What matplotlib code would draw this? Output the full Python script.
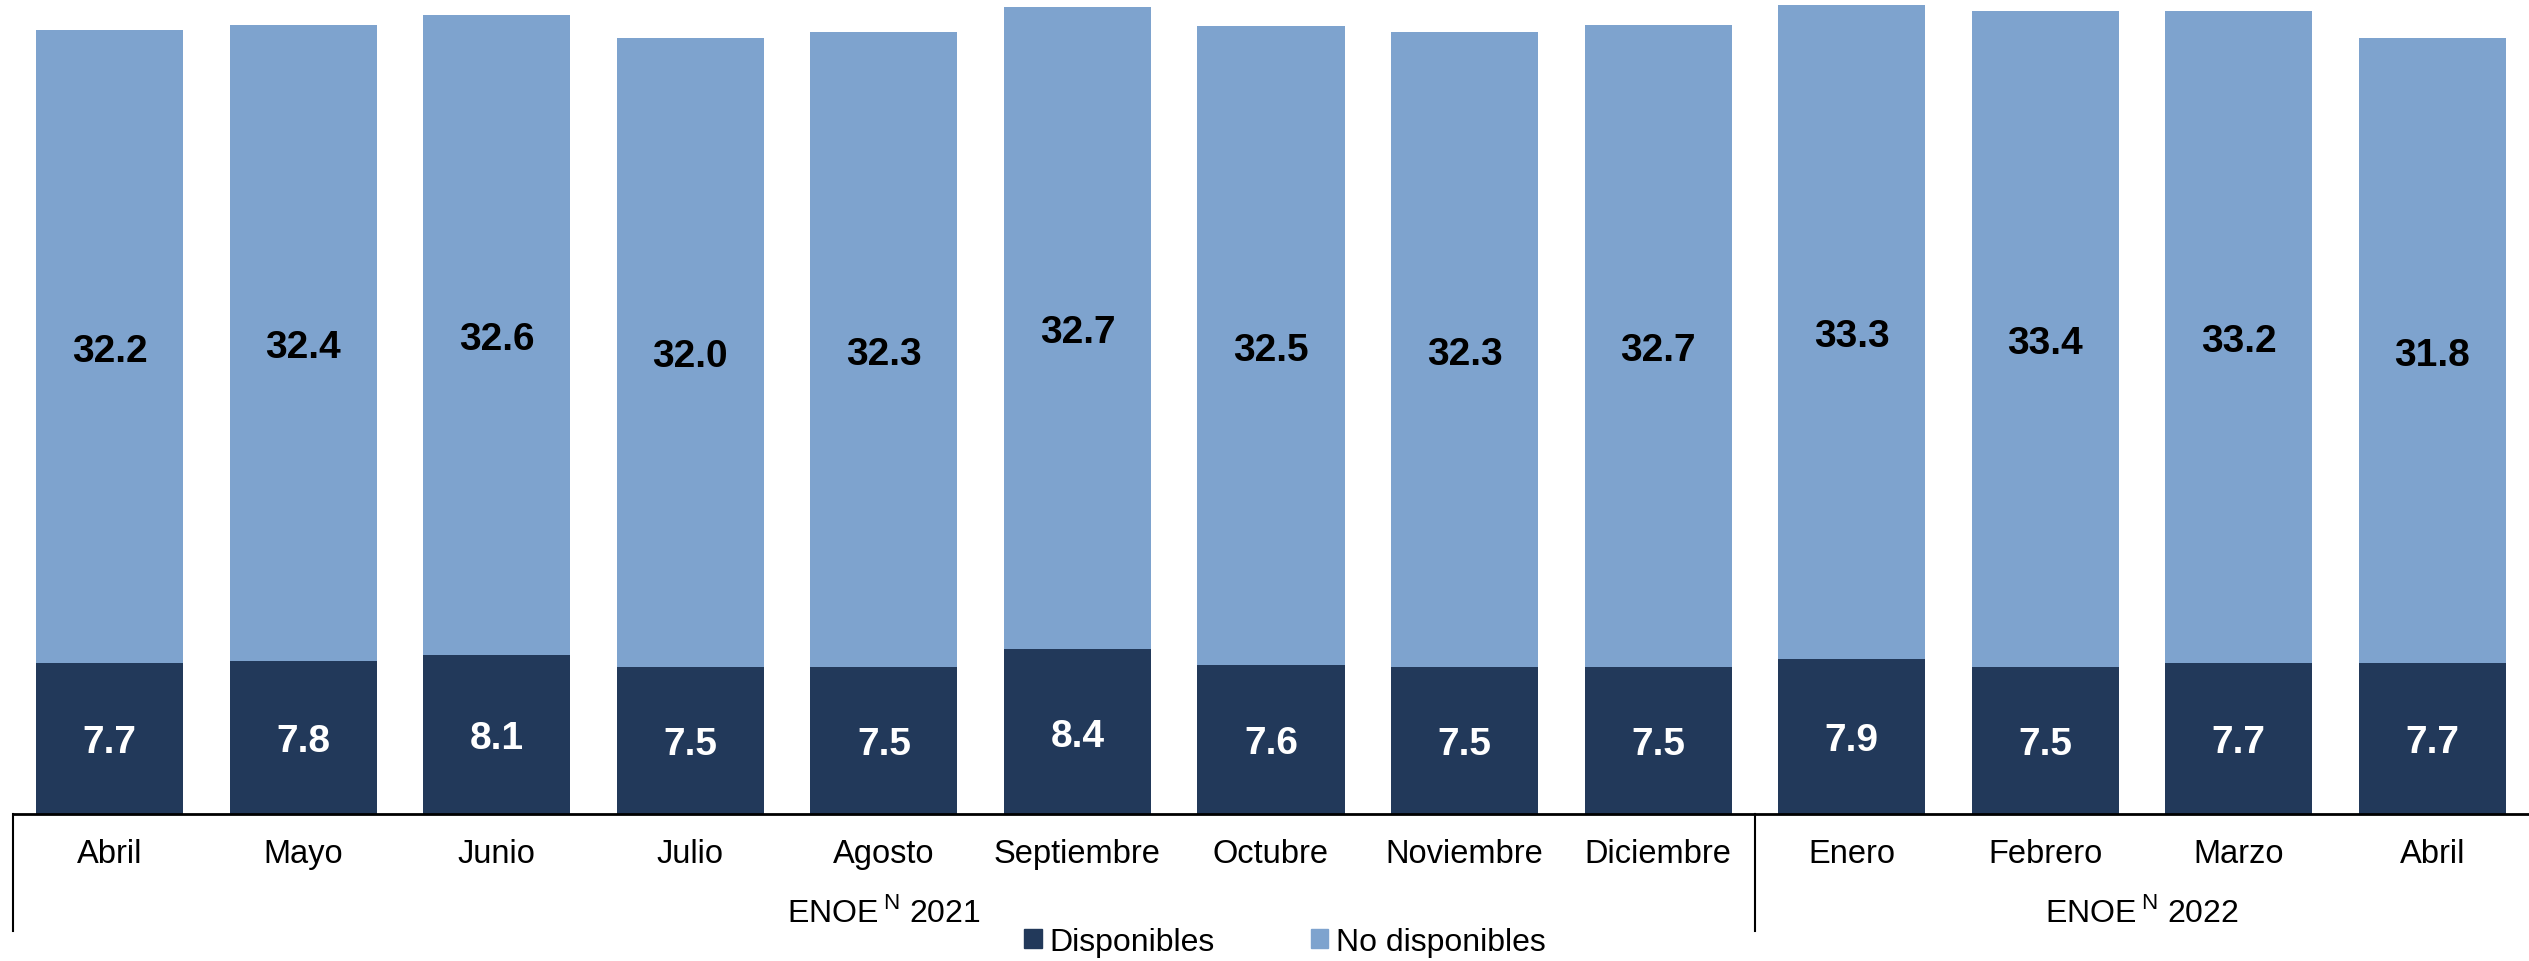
import matplotlib
matplotlib.use("Agg")
import matplotlib.pyplot as plt
from matplotlib.lines import Line2D
from matplotlib.patches import Patch
import numpy as np

plt.rcParams['font.family'] = ['Liberation Sans', 'DejaVu Sans']
plt.rcParams['mathtext.fontset'] = 'custom'
plt.rcParams['mathtext.rm'] = 'Liberation Sans'

months = ["Abril", "Mayo", "Junio", "Julio", "Agosto", "Septiembre", "Octubre",
          "Noviembre", "Diciembre", "Enero", "Febrero", "Marzo", "Abril"]
disponibles = [7.7, 7.8, 8.1, 7.5, 7.5, 8.4, 7.6, 7.5, 7.5, 7.9, 7.5, 7.7, 7.7]
no_disponibles = [32.2, 32.4, 32.6, 32.0, 32.3, 32.7, 32.5, 32.3, 32.7, 33.3, 33.4, 33.2, 31.8]
group_labels = [r"ENOE$\,^{\mathrm{N}}$ 2021", r"ENOE$\,^{\mathrm{N}}$ 2022"]
group_sizes = [9, 4]
series_names = ["Disponibles", "No disponibles"]

c_dark = "#22395A"
c_light = "#7EA3CE"

W, H = 2529, 962
fig = plt.figure(figsize=(W / 100, H / 100), dpi=100)
base_y = 815
ax = fig.add_axes([13 / W, (H - base_y) / H, 1 - 13 / W, base_y / H])

x = np.arange(len(months))
bw = 0.76
ax.bar(x, disponibles, width=bw, color=c_dark, linewidth=0)
ax.bar(x, no_disponibles, width=bw, bottom=disponibles, color=c_light, linewidth=0)

for i in range(len(months)):
    d = disponibles[i]
    n = no_disponibles[i]
    ax.text(x[i], d / 2, f"{d:.1f}", ha="center", va="center_baseline", color="white",
            fontsize=28, fontweight="bold")
    ax.text(x[i], d + n / 2, f"{n:.1f}", ha="center", va="center_baseline", color="black",
            fontsize=28, fontweight="bold")

ax.set_xlim(-0.5, 12.5)
ax.set_ylim(0, 41.5)
ax.axis("off")

# baseline
ax.plot([-0.5, 12.5], [0, 0], color="black", lw=2, clip_on=False)

inv = fig.transFigure.inverted()

def fx(xv):
    return inv.transform(ax.transData.transform((xv, 0)))[0]

# vertical separators
y_top = (H - base_y) / H
y_bot = (H - 932) / H
bounds = np.concatenate([[0], np.cumsum(group_sizes)]) - 0.5
for xv in bounds[:-1]:
    fig.add_artist(Line2D([fx(xv), fx(xv)], [y_top, y_bot], color="black", lw=1.5))

# month labels
y_month = 1 - 855 / H
for i, m in enumerate(months):
    fig.text(fx(x[i]), y_month, m, ha="center", va="center", fontsize=23.5)

# group labels
y_grp = 1 - 913 / H
for k, lab in enumerate(group_labels):
    xc = (bounds[k] + bounds[k + 1]) / 2
    fig.text(fx(xc), y_grp, lab, ha="center", va="center", fontsize=23)

# legend
handles = [Patch(color=c_dark), Patch(color=c_light)]
fig.legend(handles, series_names, loc="center", bbox_to_anchor=(1285 / W, 1 - 943 / H),
           ncol=2, frameon=False, fontsize=23, handlelength=0.55, handleheight=0.55,
           handletextpad=0.25, columnspacing=3.0)

fig.savefig("out.png", dpi=100)
